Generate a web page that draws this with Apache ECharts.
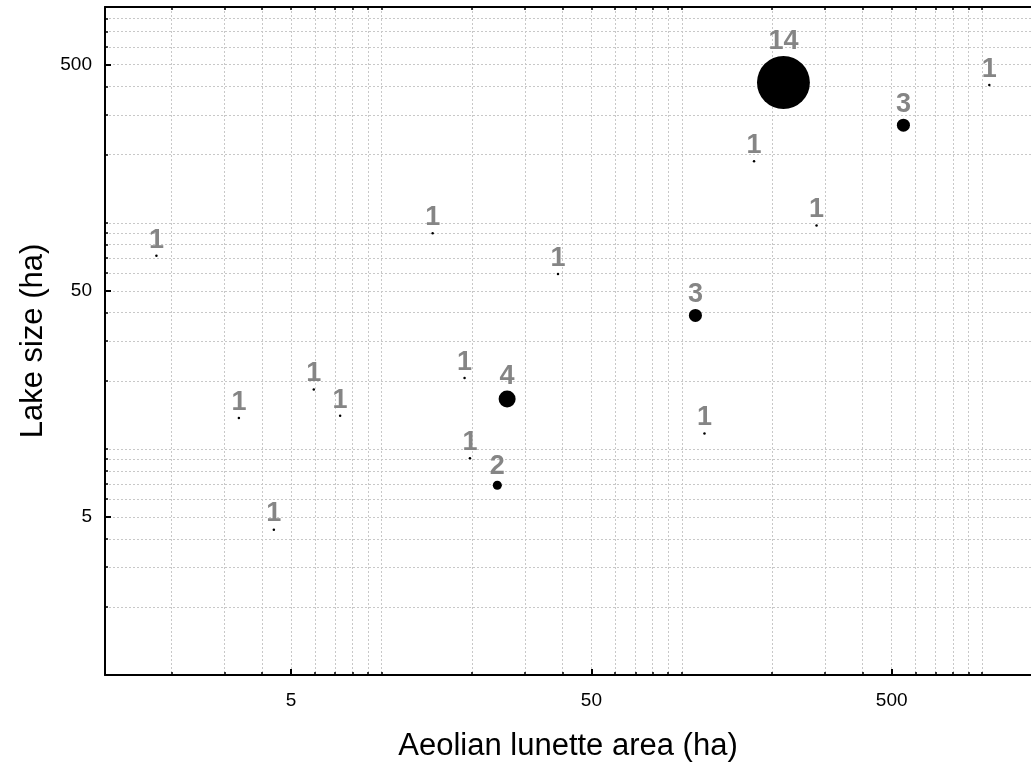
<!DOCTYPE html>
<html>
<head>
<meta charset="utf-8">
<script src="https://cdn.jsdelivr.net/npm/echarts@6/dist/echarts.min.js"></script>
<style>
  html, body { margin: 0; padding: 0; background: #fff; }
  #chart { width: 1031px; height: 769px; }
</style>
</head>
<body>
<div id="chart"></div>
<script>
// lunette area (ha), lake size (ha), number of lakes at that point
const lunetteArea = [1.78, 3.35, 4.38, 5.95, 7.28, 14.8, 18.9, 19.7, 24.3, 26.2, 38.7, 111, 119, 174, 218, 281, 547, 1057];
const lakeSize = [71.4, 13.7, 4.39, 18.3, 14.0, 89.9, 20.6, 9.1, 6.9, 16.6, 59.4, 38.9, 11.7, 187, 417, 97.2, 270, 407];
const lakeCount = [1, 1, 1, 1, 1, 1, 1, 1, 2, 4, 1, 3, 1, 1, 14, 1, 3, 1];

const xLabels = [5, 50, 500];
const yLabels = [5, 50, 500];
const xGrid = [2, 3, 4, 5, 6, 7, 8, 9, 10, 20, 30, 40, 50, 60, 70, 80, 90, 100, 200, 300, 400, 500, 600, 700, 800, 900, 1000];
const yGrid = [2, 3, 4, 5, 6, 7, 8, 9, 10, 20, 30, 40, 50, 60, 70, 80, 90, 100, 200, 300, 400, 500, 600, 700, 800];

const points = lunetteArea.map((x, i) => [x, lakeSize[i], lakeCount[i]]);

const FONT = 'Liberation Sans, Arial, sans-serif';
const X_MIN = 1.2, X_MAX = 1455, Y_MIN = 1, Y_MAX = 900;

// bubble diameter grows a bit slower than the count
function dotSize(n) {
  return n === 1 ? 2.5 : 4.83 * Math.pow(n, 0.907);
}

let chart = echarts.init(document.getElementById('chart'));

let option = {
  backgroundColor: '#fff',
  animation: false,
  grid: { left: 105, right: 0, top: 7, bottom: 94, containLabel: false, outerBoundsMode: 'none' },
  xAxis: [
    {
      type: 'log', logBase: 10, min: X_MIN, max: X_MAX, position: 'bottom',
      name: 'Aeolian lunette area (ha)', nameLocation: 'middle', nameGap: 56,
      nameTextStyle: { fontSize: 31, color: '#000', fontFamily: FONT },
      axisLine: { lineStyle: { color: '#000', width: 2 } },
      axisTick: { inside: true, length: 3, customValues: xGrid, lineStyle: { color: '#000', width: 1.5 } },
      axisLabel: { customValues: xLabels, fontSize: 19, color: '#000', margin: 16, fontFamily: FONT },
      splitLine: { show: true, lineStyle: { color: '#c8c8c8', width: 1, type: [2, 2] } },
      minorTick: { show: false }
    },
    {
      type: 'log', logBase: 10, min: X_MIN, max: X_MAX, position: 'bottom',
      axisLine: { show: false },
      axisTick: { inside: true, length: 6, customValues: xLabels, lineStyle: { color: '#000', width: 2 } },
      axisLabel: { show: false },
      splitLine: { show: false }
    },
    {
      type: 'log', logBase: 10, min: X_MIN, max: X_MAX, position: 'top',
      axisLine: { lineStyle: { color: '#000', width: 2 } },
      axisTick: { inside: true, length: 3, customValues: xGrid, lineStyle: { color: '#000', width: 1.5 } },
      axisLabel: { show: false },
      splitLine: { show: false }
    }
  ],
  yAxis: [
    {
      type: 'log', logBase: 10, min: Y_MIN, max: Y_MAX, position: 'left',
      name: 'Lake size (ha)', nameLocation: 'middle', nameGap: 55,
      nameTextStyle: { fontSize: 31, color: '#000', fontFamily: FONT },
      axisLine: { lineStyle: { color: '#000', width: 2 } },
      axisTick: { inside: true, length: 3, customValues: yGrid, lineStyle: { color: '#000', width: 1.5 } },
      axisLabel: { customValues: yLabels, fontSize: 19, color: '#000', margin: 13, fontFamily: FONT },
      splitLine: { show: true, lineStyle: { color: '#c8c8c8', width: 1, type: [2, 2] } },
      minorTick: { show: false }
    },
    {
      type: 'log', logBase: 10, min: Y_MIN, max: Y_MAX, position: 'left',
      axisLine: { show: false },
      axisTick: { inside: true, length: 6, customValues: yLabels, lineStyle: { color: '#000', width: 2 } },
      axisLabel: { show: false },
      splitLine: { show: false }
    }
  ],
  series: [
    {
      type: 'scatter',
      xAxisIndex: 0, yAxisIndex: 0,
      data: points,
      symbol: 'circle',
      symbolSize: v => dotSize(v[2]),
      itemStyle: { color: '#000', opacity: 1 },
      label: {
        show: true, position: 'top', distance: 1,
        formatter: p => String(p.value[2]),
        color: '#858585', fontSize: 27, fontWeight: 'bold', fontFamily: FONT
      }
    }
  ]
};
chart.setOption(option);
</script>
</body>
</html>
